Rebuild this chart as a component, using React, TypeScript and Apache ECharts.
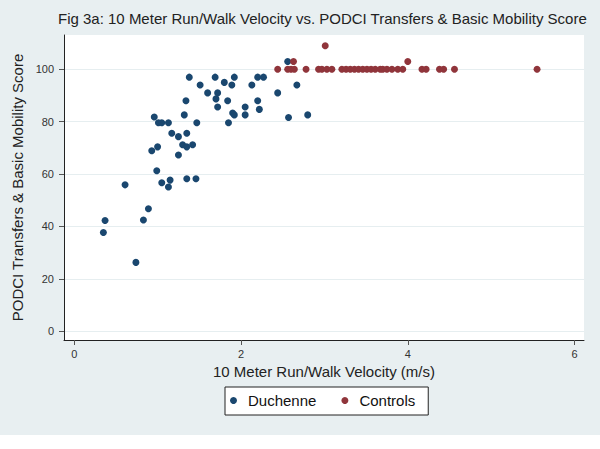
import React, { useEffect, useRef } from "react";
import * as echarts from "echarts";

const duchenneX = [0.35, 0.37, 0.61, 0.74, 0.83, 0.89, 0.93, 0.96, 0.99, 1.0, 1.01, 1.05, 1.05, 1.13, 1.13, 1.15, 1.17, 1.25, 1.25, 1.3, 1.32, 1.34, 1.35, 1.35, 1.35, 1.38, 1.42, 1.46, 1.47, 1.51, 1.6, 1.69, 1.7, 1.72, 1.72, 1.8, 1.84, 1.85, 1.89, 1.9, 1.92, 1.92, 2.05, 2.05, 2.13, 2.2, 2.2, 2.22, 2.27, 2.44, 2.56, 2.57, 2.67, 2.8];
const duchenneY = [37.7, 42.3, 55.9, 26.3, 42.5, 46.8, 68.9, 81.8, 61.3, 70.4, 79.6, 79.6, 56.7, 79.6, 55.1, 57.7, 75.6, 74.3, 67.3, 71.2, 82.6, 88.0, 75.6, 70.4, 58.2, 97, 71.2, 58.2, 79.6, 94, 91, 97, 88.7, 91, 85.6, 95, 88, 79.6, 94, 83.3, 97, 82.6, 85.6, 82.6, 94, 97, 88, 84.7, 97, 91, 103, 81.6, 94, 82.6];

const controlsX = [2.44, 2.56, 2.6, 2.64, 2.78, 2.93, 2.97, 3.03, 3.09, 3.21, 3.26, 3.31, 3.36, 3.41, 3.46, 3.51, 3.56, 3.61, 3.67, 3.7, 3.75, 3.81, 3.88, 3.94, 4.17, 4.22, 4.38, 4.43, 4.56, 5.55, 2.63, 3.01, 4.0];
const controlsY = [100, 100, 100, 100, 100, 100, 100, 100, 100, 100, 100, 100, 100, 100, 100, 100, 100, 100, 100, 100, 100, 100, 100, 100, 100, 100, 100, 100, 100, 100, 103, 109, 103];

const xTicks = [0, 2, 4, 6];
const yTicks = [0, 20, 40, 60, 80, 100];

const FONT = "'Liberation Sans', Arial, Helvetica, sans-serif";
const NAVY = "#1a476f";
const MAROON = "#90353b";

export default function App() {
  const ref = useRef<HTMLDivElement>(null);
  useEffect(() => {
    const chart = echarts.init(ref.current!, null, { renderer: "svg" });
    chart.setOption({
      animation: false,
      textStyle: { fontFamily: FONT },
      title: {
        text: "Fig 3a: 10 Meter Run/Walk Velocity vs. PODCI Transfers & Basic Mobility Score",
        left: 58,
        top: 11,
        padding: 0,
        textStyle: { fontSize: 15, fontWeight: "normal", color: "#222", fontFamily: FONT },
      },
      legend: {
        left: 225,
        top: 387,
        orient: "horizontal",
        padding: [6, 13, 7, 5],
        itemGap: 25,
        itemWidth: 7,
        itemHeight: 7,
        icon: "circle",
        backgroundColor: "#fff",
        borderColor: "#222",
        borderWidth: 1,
        borderRadius: 0,
        textStyle: { fontSize: 15, color: "#111", fontFamily: FONT, padding: [0, 0, 0, 6] },
        data: ["Duchenne", "Controls"],
      },
      grid: {
        left: 64,
        right: 16,
        top: 35,
        bottom: 109,
        show: true,
        backgroundColor: "#fff",
        borderWidth: 0,
      },
      xAxis: {
        type: "value",
        min: -0.1223,
        max: 6.113,
        name: "10 Meter Run/Walk Velocity (m/s)",
        nameLocation: "middle",
        nameGap: 23,
        nameTextStyle: { fontSize: 15, color: "#222", fontFamily: FONT },
        axisLine: { show: true, onZero: false, lineStyle: { color: "#222", width: 1 } },
        axisTick: { show: true, length: 5, customValues: xTicks, lineStyle: { color: "#555" } },
        axisLabel: { customValues: xTicks, fontSize: 11, color: "#333", margin: 8 },
        splitLine: { show: false },
      },
      yAxis: {
        type: "value",
        min: -3.32,
        max: 113.09,
        name: "PODCI Transfers & Basic Mobility Score",
        nameLocation: "middle",
        nameGap: 25,
        nameTextStyle: { fontSize: 15, color: "#222", fontFamily: FONT },
        axisLine: { show: true, onZero: false, lineStyle: { color: "#222", width: 1 } },
        axisTick: { show: true, length: 5, customValues: yTicks, lineStyle: { color: "#555" } },
        axisLabel: { customValues: yTicks, fontSize: 11, color: "#333", margin: 10 },
        splitLine: { show: true, lineStyle: { color: "#e6eef0", width: 1 } },
      },
      series: [
        {
          name: "Duchenne",
          type: "scatter",
          symbol: "circle",
          symbolSize: 7,
          itemStyle: { color: NAVY, opacity: 1 },
          data: duchenneX.map((x, i) => [x, duchenneY[i]]),
        },
        {
          name: "Controls",
          type: "scatter",
          symbol: "circle",
          symbolSize: 7,
          itemStyle: { color: MAROON, opacity: 1 },
          data: controlsX.map((x, i) => [x, controlsY[i]]),
        },
      ],
    });
    return () => chart.dispose();
  }, []);
  return (
    <div style={{ position: "absolute", left: 0, top: 0, width: 600, height: 449, background: "#fff" }}>
      <div style={{ position: "absolute", left: 0, top: 0, width: 600, height: 435, background: "#e8eff1" }} />
      <div ref={ref} style={{ position: "absolute", left: 0, top: 0, width: 600, height: 449 }} />
    </div>
  );
}
